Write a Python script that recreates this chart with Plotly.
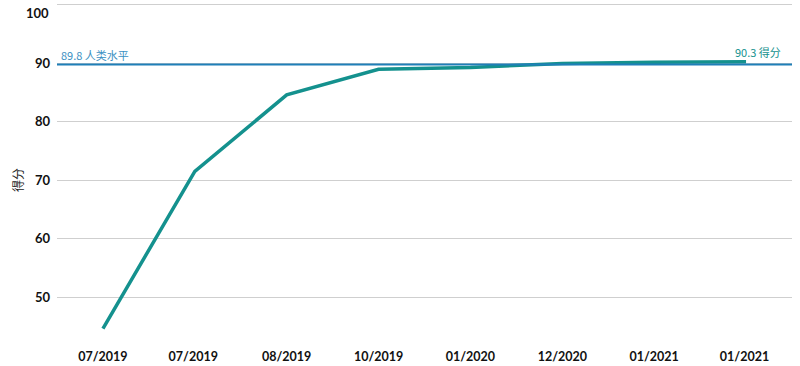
import plotly.graph_objects as go

categories = ["07/2019", "07/2019 ", "08/2019", "10/2019", "01/2020", "12/2020", "01/2021", "01/2021 "]
scores = [44.6, 71.5, 84.6, 89.0, 89.3, 90.0, 90.2, 90.3]
human_level = 89.8
y_ticks = [50, 60, 70, 80, 90, 100]
y_tick_text = ["50", "60", "70", "80", "90", ""]
top_label = "100"

teal = "#14918e"
blue = "#1f7fb8"

L, R, T, B, W, H = 57, 8, 3, 26, 800, 366
pw = W - L - R
ph = H - T - B

fig = go.Figure()
fig.add_trace(go.Scatter(
    x=categories, y=scores, mode="lines",
    line=dict(color=teal, width=3.5), showlegend=False, hoverinfo="skip"))

fig.add_shape(type="line", xref="paper", yref="y", x0=0, x1=1,
              y0=human_level, y1=human_level, line=dict(color=blue, width=2))

fig.add_annotation(xref="paper", yref="y", x=0.003, y=human_level,
                   text=f"{human_level} 人类水平", showarrow=False,
                   xanchor="left", yanchor="bottom", yshift=0,
                   font=dict(family="Noto Sans CJK SC", size=11, color="#3a8fc2"))
fig.add_annotation(xref="x", yref="y", x=categories[-1], y=scores[-1],
                   text=f"{scores[-1]} 得分", showarrow=False,
                   xanchor="center", yanchor="bottom", xshift=12, yshift=0,
                   font=dict(family="Noto Sans CJK SC", size=11, color=teal))
fig.add_annotation(xref="paper", yref="paper", x=(17 - L) / pw, y=1 - (180 - T) / ph,
                   text="得分", textangle=-90, showarrow=False,
                   xanchor="center", yanchor="middle",
                   font=dict(family="Noto Sans CJK SC", size=12, color="#222222"))
fig.add_annotation(xref="paper", yref="paper", x=-6 / pw, y=1 - (13 - T) / ph,
                   text=top_label, showarrow=False, xanchor="right", yanchor="middle",
                   font=dict(family="Lato", size=13, color="#111111", weight="bold"))

fig.update_layout(
    width=W, height=H,
    margin=dict(l=L, r=R, t=T, b=B, autoexpand=False),
    plot_bgcolor="white", paper_bgcolor="white",
    font=dict(family="Noto Sans CJK SC", color="#111111"),
)
fig.update_xaxes(
    type="category", showgrid=False, zeroline=False, showline=False, automargin=False,
    ticks="", tickfont=dict(family="Lato", size=12.5, color="#111111", weight="bold"),
    range=[-0.5, len(categories) - 0.5], ticklabelstandoff=7,
)
fig.update_yaxes(
    range=[42.64, 100.34], tickvals=y_ticks, ticktext=y_tick_text,
    showgrid=True, gridcolor="#cfcfcf", gridwidth=1,
    zeroline=False, showline=False, automargin=False,
    tickfont=dict(family="Lato", size=13, color="#111111", weight="bold"),
    ticklabelstandoff=6,
)

fig.write_html("out.html", config={"displayModeBar": False},
               post_script="document.body.style.margin='0';document.body.style.overflow='hidden';")
